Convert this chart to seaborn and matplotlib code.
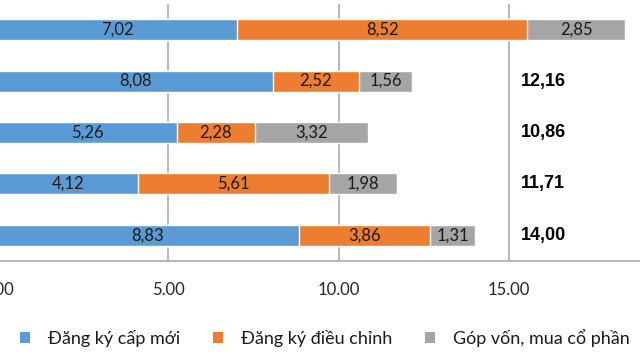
import matplotlib
matplotlib.use("Agg")
import matplotlib.pyplot as plt
from matplotlib.patches import Patch
import seaborn as sns
import pandas as pd

# values (billions USD); category names are cut off in the picture
categories = ["Kỳ 1", "Kỳ 2", "Kỳ 3", "Kỳ 4", "Kỳ 5"]
cap_moi = [7.02, 8.08, 5.26, 4.12, 8.83]
dieu_chinh = [8.52, 2.52, 2.28, 5.61, 3.86]
gop_von = [2.85, 1.56, 3.32, 1.98, 1.31]
series_names = ["Đăng ký cấp mới", "Đăng ký điều chỉnh", "Góp vốn, mua cổ phần"]
colors = ["#5B9BD5", "#ED7D31", "#A5A5A5"]
x_ticks = [0, 5, 10, 15]

sns.set_style("white")
plt.rcParams["font.family"] = ["Lato", "DejaVu Sans"]

df = pd.DataFrame({"cat": categories, "a": cap_moi, "b": dieu_chinh, "c": gop_von})
df["ab"] = df["a"] + df["b"]
df["abc"] = df["ab"] + df["c"]

fig = plt.figure(figsize=(6.4, 3.6), dpi=100)
ax = fig.add_axes([-2.5 / 640, 1 - 261 / 360, 682 / 640, 257 / 360])

# overlapping cumulative bars give the stacked look
sns.barplot(data=df, x="abc", y="cat", orient="h", color=colors[2], width=0.41, ax=ax, saturation=1)
sns.barplot(data=df, x="ab", y="cat", orient="h", color=colors[1], width=0.41, ax=ax, saturation=1)
sns.barplot(data=df, x="a", y="cat", orient="h", color=colors[0], width=0.41, ax=ax, saturation=1)

ax.set_xlim(0, 20)
ax.set_ylim(4.5, -0.5)
ax.set_xticks(x_ticks)
ax.set_xticklabels([f"{t:.2f}" for t in x_ticks], fontsize=12, color="#262626")
ax.set_yticks([])
ax.set_xlabel("")
ax.set_ylabel("")
ax.xaxis.grid(True, color="#ABABAB", linewidth=1.2)
ax.set_axisbelow(True)
for s in ["top", "right", "left"]:
    ax.spines[s].set_visible(False)
ax.spines["bottom"].set_color("#ABABAB")
ax.spines["bottom"].set_linewidth(1.2)
ax.tick_params(axis="x", length=6, width=1.2, color="#ABABAB", pad=9)

fmt = lambda v: f"{v:.2f}".replace(".", ",")
for i, row in df.iterrows():
    ax.text(row["a"] / 2, i, fmt(row["a"]), ha="center", va="center", fontsize=12, color="#1A1A1A")
    ax.text(row["a"] + row["b"] / 2, i, fmt(row["b"]), ha="center", va="center", fontsize=12, color="#1A1A1A")
    ax.text(row["ab"] + row["c"] / 2, i, fmt(row["c"]), ha="center", va="center", fontsize=12, color="#1A1A1A")
    if i > 0:
        ax.text(16.0, i, fmt(row["abc"]), ha="center", va="center", fontsize=13, fontweight="bold",
                color="black", family="Liberation Sans")

handles = [Patch(facecolor=c, edgecolor="none") for c in colors]
fig.legend(handles, series_names, loc="center left", bbox_to_anchor=(4 / 640, 1 - 338 / 360),
           ncol=3, frameon=False, fontsize=13, handlelength=0.55, handleheight=0.55,
           handletextpad=1.0, columnspacing=1.8, labelcolor="#1A1A1A")

fig.savefig("out.png", dpi=100)
